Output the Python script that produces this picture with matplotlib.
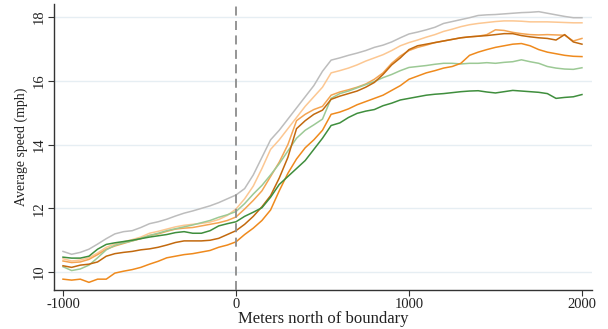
import matplotlib
matplotlib.use("Agg")
import matplotlib.pyplot as plt

distance = list(range(-1000, 2001, 50))

gray = [10.65, 10.56, 10.62, 10.72, 10.88, 11.05, 11.2, 11.27, 11.3, 11.4,
        11.52, 11.58, 11.66, 11.76, 11.85, 11.92, 12.0, 12.08, 12.18, 12.3,
        12.42, 12.62, 13.05, 13.6, 14.15, 14.45, 14.8, 15.15, 15.5, 15.85,
        16.3, 16.65, 16.72, 16.8, 16.87, 16.95, 17.05, 17.12, 17.22, 17.35,
        17.47, 17.53, 17.6, 17.68, 17.8, 17.86, 17.92, 17.98, 18.05, 18.07,
        18.08, 18.1, 18.12, 18.14, 18.15, 18.17, 18.12, 18.07, 18.02, 17.98, 17.98]

peach = [10.42, 10.35, 10.38, 10.45, 10.6, 10.78, 10.88, 10.95, 11.02, 11.1,
         11.22, 11.28, 11.35, 11.42, 11.47, 11.5, 11.53, 11.57, 11.65, 11.78,
         11.98, 12.3, 12.7, 13.25, 13.85, 14.15, 14.5, 14.85, 15.2, 15.5,
         15.8, 16.25, 16.32, 16.4, 16.5, 16.62, 16.72, 16.82, 16.95, 17.1,
         17.2, 17.28, 17.37, 17.45, 17.55, 17.62, 17.7, 17.76, 17.8, 17.83,
         17.86, 17.88, 17.88, 17.87, 17.85, 17.85, 17.85, 17.84, 17.83, 17.82, 17.82]

orange_mid = [10.35, 10.3, 10.32, 10.4, 10.55, 10.72, 10.82, 10.9, 10.98, 11.05,
              11.15, 11.2, 11.28, 11.35, 11.38, 11.4, 11.45, 11.5, 11.55, 11.62,
              11.73, 11.98, 12.25, 12.55, 13.0, 13.45, 14.0, 14.75, 14.95, 15.1,
              15.2, 15.55, 15.65, 15.72, 15.8, 15.9, 16.05, 16.25, 16.55, 16.78,
              16.95, 17.05, 17.12, 17.2, 17.25, 17.3, 17.35, 17.38, 17.4, 17.45,
              17.6, 17.58, 17.52, 17.48, 17.45, 17.44, 17.45, 17.44, 17.43, 17.25, 17.33]

brown = [10.2, 10.15, 10.22, 10.25, 10.32, 10.5, 10.58, 10.62, 10.65, 10.7,
         10.73, 10.78, 10.85, 10.93, 10.98, 10.98, 10.98, 11.0, 11.06, 11.18,
         11.3, 11.5, 11.75, 12.05, 12.4, 12.95, 13.6, 14.5, 14.75, 14.95,
         15.08, 15.42, 15.52, 15.6, 15.68, 15.8, 15.95, 16.2, 16.5, 16.72,
         16.98, 17.1, 17.15, 17.2, 17.25, 17.3, 17.35, 17.38, 17.4, 17.42,
         17.45, 17.48, 17.48, 17.42, 17.38, 17.35, 17.33, 17.28, 17.45, 17.22, 17.15]

green_light = [10.17, 10.05, 10.1, 10.22, 10.45, 10.7, 10.84, 10.92, 10.98, 11.06,
               11.15, 11.22, 11.3, 11.36, 11.42, 11.48, 11.55, 11.62, 11.72, 11.8,
               11.9, 12.15, 12.45, 12.72, 13.05, 13.4, 13.8, 14.2, 14.45, 14.62,
               14.8, 15.45, 15.6, 15.68, 15.78, 15.88, 15.98, 16.1, 16.2, 16.32,
               16.42, 16.45, 16.48, 16.52, 16.55, 16.55, 16.53, 16.55, 16.55, 16.57,
               16.55, 16.58, 16.6, 16.66, 16.6, 16.55, 16.45, 16.4, 16.37, 16.36, 16.41]

orange = [9.78, 9.75, 9.78, 9.68, 9.78, 9.78, 9.97, 10.03, 10.08, 10.15,
          10.25, 10.34, 10.45, 10.5, 10.55, 10.58, 10.63, 10.68, 10.78, 10.85,
          10.95, 11.18, 11.38, 11.62, 11.95, 12.55, 13.1, 13.55, 13.9, 14.15,
          14.45, 14.95, 15.02, 15.12, 15.25, 15.35, 15.45, 15.55, 15.7, 15.85,
          16.05, 16.15, 16.25, 16.32, 16.4, 16.45, 16.55, 16.8, 16.9, 16.98,
          17.05, 17.1, 17.15, 17.17, 17.1, 16.98, 16.9, 16.85, 16.8, 16.77, 16.76]

green_dark = [10.47, 10.44, 10.44, 10.5, 10.72, 10.87, 10.92, 10.96, 11.0, 11.05,
              11.1, 11.14, 11.18, 11.24, 11.27, 11.22, 11.22, 11.3, 11.45, 11.52,
              11.58, 11.75, 11.88, 12.02, 12.35, 12.75, 13.0, 13.25, 13.5, 13.85,
              14.2, 14.6, 14.68, 14.85, 14.98, 15.05, 15.1, 15.22, 15.3, 15.4,
              15.45, 15.5, 15.55, 15.58, 15.6, 15.63, 15.66, 15.68, 15.69, 15.65,
              15.62, 15.66, 15.7, 15.68, 15.66, 15.64, 15.6, 15.45, 15.48, 15.5, 15.57]

y_ticks = [10, 12, 14, 16, 18]
x_ticks = [-1000, 0, 1000, 2000]

series = [
    (gray, "#bdbdbd"),
    (peach, "#fcc792"),
    (orange_mid, "#f4a452"),
    (green_light, "#9cc995"),
    (brown, "#c2690e"),
    (orange, "#ef8a1d"),
    (green_dark, "#3f8e3d"),
]

plt.rcParams['font.family'] = ['Liberation Serif', 'DejaVu Serif']

fig = plt.figure(figsize=(6.08, 3.29), dpi=100)
ax = fig.add_axes([54/608, 39/329, (592-54)/608, (325-39)/329])

for yt in y_ticks:
    ax.axhline(yt, color="#e6eef3", lw=1.0, zorder=0)

for vals, col in series:
    ax.plot(distance, vals, color=col, lw=1.1, zorder=2)

ax.axvline(0, color="#8c8c8c", lw=1.3, ls=(0, (5, 3)), zorder=3)

ax.set_xlim(-1052, 2058)
ax.set_ylim(9.44, 18.41)
ax.set_xticks(x_ticks)
ax.set_xticklabels([str(t) for t in x_ticks])
ax.set_yticks(y_ticks)
ax.set_yticklabels([str(t) for t in y_ticks], rotation=90, va="center")

for s in ["top", "right"]:
    ax.spines[s].set_visible(False)
for s in ["left", "bottom"]:
    ax.spines[s].set_color("#333333")
    ax.spines[s].set_linewidth(1.0)

ax.tick_params(axis="both", direction="out", length=4, width=0.8,
               color="#333333", labelsize=10.5, labelcolor="#222222", pad=2)

ax.set_xlabel("Meters north of boundary", fontsize=12, color="#222222", labelpad=0)
ax.set_ylabel("Average speed (mph)", fontsize=10, color="#222222", labelpad=3)

fig.savefig("out.png", dpi=100)
